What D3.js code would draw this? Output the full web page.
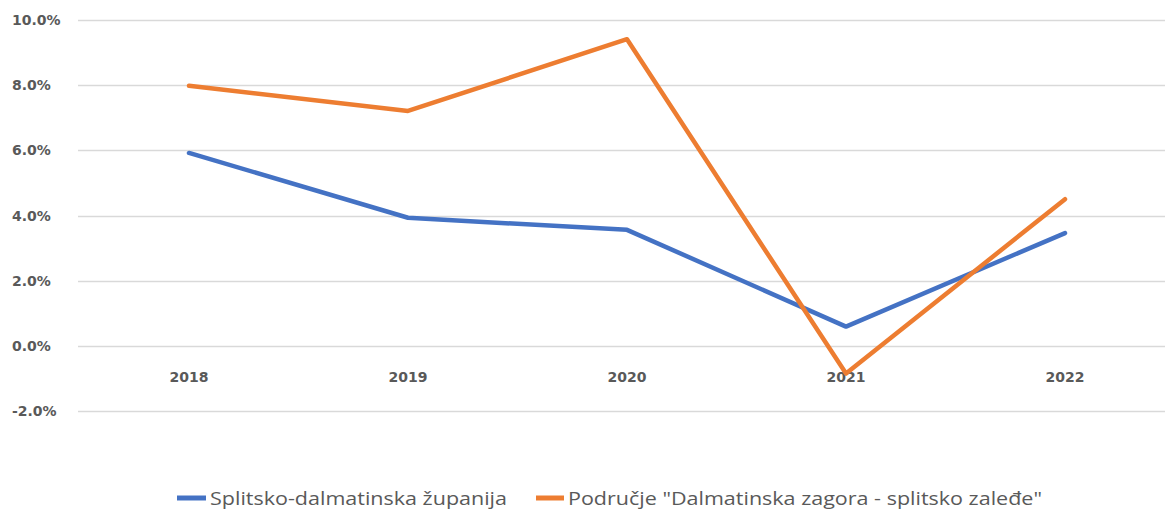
<!DOCTYPE html>
<html>
<head>
<meta charset="utf-8">
<script src="https://cdn.jsdelivr.net/npm/d3@7"></script>
<style>
  html, body { margin: 0; padding: 0; background: #fff; }
  svg { display: block; }
</style>
</head>
<body>
<svg id="chart" width="1165" height="510"></svg>
<script>
const years = ["2018", "2019", "2020", "2021", "2022"];
const seriesNames = ["Splitsko-dalmatinska županija", "Područje \"Dalmatinska zagora - splitsko zaleđe\""];
const splitskoDalmatinska = [5.92, 3.93, 3.56, 0.59, 3.46];
const dalmatinskaZagora = [7.98, 7.21, 9.41, -0.85, 4.50];
const yTicks = [-2, 0, 2, 4, 6, 8, 10];
const colors = ["#4472C4", "#ED7D31"];

const svg = d3.select("#chart");
const W = 1165;

const x = d3.scalePoint().domain(years).range([79.5, 1174.5]).padding(0.5);
const y = d3.scaleLinear().domain([-2, 10]).range([411, 20]);

// gridlines
svg.append("g").selectAll("line").data(yTicks).join("line")
  .attr("x1", 78).attr("x2", W)
  .attr("y1", d => Math.round(y(d)) + 0.5).attr("y2", d => Math.round(y(d)) + 0.5)
  .attr("stroke", "#D9D9D9").attr("stroke-width", 1.5);

// y labels
const fmt = d3.formatLocale({ decimal: ".", thousands: ",", grouping: [3], currency: ["", ""], minus: "-" }).format(".1f");
svg.append("g").selectAll("text").data(yTicks).join("text")
  .attr("x", 12).attr("y", d => y(d))
  .attr("dy", "0.36em")
  .attr("font-family", "'DejaVu Sans', sans-serif")
  .attr("font-weight", "bold").attr("font-size", 14)
  .attr("fill", "#595959")
  .text(d => fmt(d) + "%");

// x labels
svg.append("g").selectAll("text").data(years).join("text")
  .attr("x", d => x(d)).attr("y", 377)
  .attr("dy", "0.36em")
  .attr("text-anchor", "middle")
  .attr("font-family", "'DejaVu Sans', sans-serif")
  .attr("font-weight", "bold").attr("font-size", 14)
  .attr("fill", "#595959")
  .text(d => d);

const line = d3.line().x((d, i) => x(years[i])).y(d => y(d));
[splitskoDalmatinska, dalmatinskaZagora].forEach((s, k) => {
  svg.append("path").datum(s)
    .attr("d", line)
    .attr("fill", "none")
    .attr("stroke", colors[k])
    .attr("stroke-width", 4.5)
    .attr("stroke-linejoin", "round")
    .attr("stroke-linecap", "round");
});

// legend
const legendItems = [
  { sx: 177, sw: 29, tx: 210, tw: 297 },
  { sx: 536, sw: 28, tx: 568, tw: 474 }
];
const lg = svg.append("g");
legendItems.forEach((it, k) => {
  lg.append("line")
    .attr("x1", it.sx).attr("x2", it.sx + it.sw)
    .attr("y1", 498).attr("y2", 498)
    .attr("stroke", colors[k]).attr("stroke-width", 5);
  lg.append("text")
    .attr("x", it.tx).attr("y", 498).attr("dy", "0.36em")
    .attr("font-family", "'Liberation Sans Narrow', 'Open Sans', sans-serif")
    .attr("font-size", 19)
    .attr("fill", "#595959")
    .attr("textLength", it.tw).attr("lengthAdjust", "spacingAndGlyphs")
    .text(seriesNames[k]);
});
</script>
</body>
</html>
